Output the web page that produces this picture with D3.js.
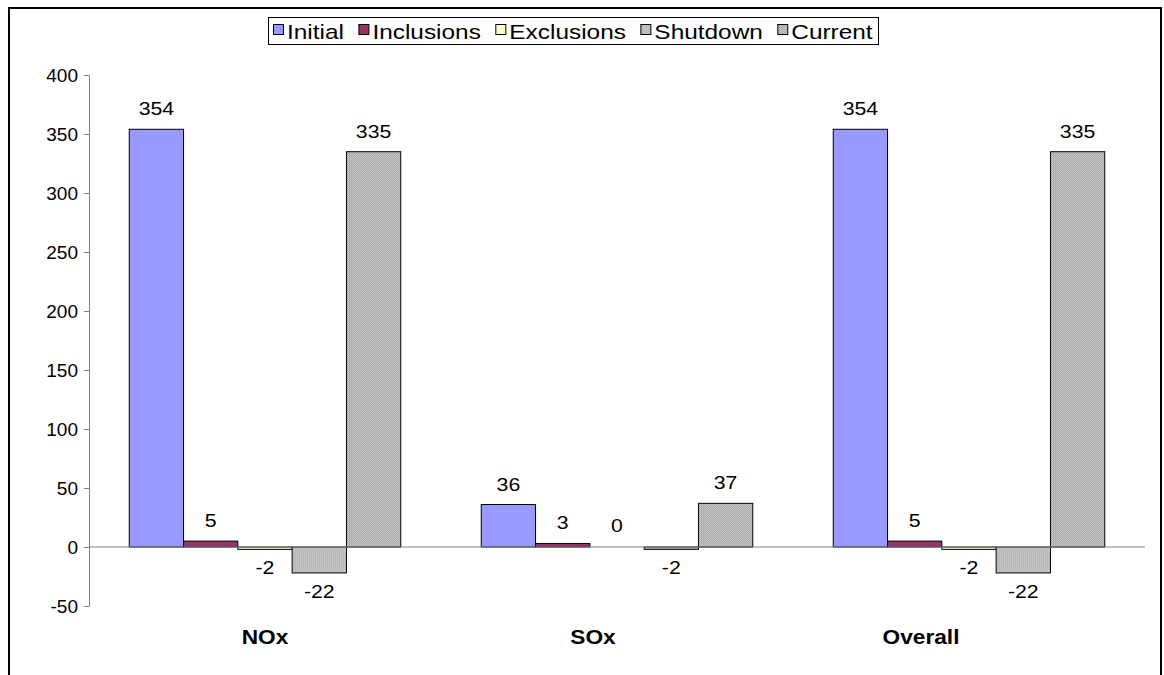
<!DOCTYPE html>
<html>
<head>
<meta charset="utf-8">
<script src="https://cdn.jsdelivr.net/npm/d3@7"></script>
<style>
  html, body { margin: 0; padding: 0; background: #fff; }
  svg { display: block; font-family: "Liberation Sans", Arial, sans-serif; }
</style>
</head>
<body>
<svg id="chart" width="1164" height="675"></svg>
<script>
// Emission totals by pollutant, broken into the change components
const categories = ["NOx", "SOx", "Overall"];
const seriesNames = ["Initial", "Inclusions", "Exclusions", "Shutdown", "Current"];
const initialVals    = [354, 36, 354];
const inclusionVals  = [5, 3, 5];
const exclusionVals  = [-2, 0, -2];
const shutdownVals   = [-22, -2, -22];
const currentVals    = [335, 37, 335];
const yTicks = [-50, 0, 50, 100, 150, 200, 250, 300, 350, 400];

const seriesValues = [initialVals, inclusionVals, exclusionVals, shutdownVals, currentVals];

const svg = d3.select("#chart");
const plot = { left: 89, right: 1145, top: 75, bottom: 606 };

// Fills: solid for the first three series, fine textures for the last two
const defs = svg.append("defs");
const stripe = defs.append("pattern").attr("id", "pat-shutdown")
  .attr("patternUnits", "userSpaceOnUse").attr("width", 2).attr("height", 2);
stripe.append("rect").attr("width", 2).attr("height", 2).attr("fill", "#c8c8c8");
stripe.append("rect").attr("width", 1).attr("height", 2).attr("fill", "#b4b4b4");

const checker = defs.append("pattern").attr("id", "pat-current")
  .attr("patternUnits", "userSpaceOnUse").attr("width", 2).attr("height", 2);
checker.append("rect").attr("width", 2).attr("height", 2).attr("fill", "#d4d4d4");
checker.append("rect").attr("width", 1).attr("height", 1).attr("fill", "#9a9a9a");
checker.append("rect").attr("x", 1).attr("y", 1).attr("width", 1).attr("height", 1).attr("fill", "#9a9a9a");

const fills = ["#9999ff", "#993366", "#ffffcc", "url(#pat-shutdown)", "url(#pat-current)"];

// Scales
const x0 = d3.scaleBand().domain(categories).range([plot.left, plot.right])
  .paddingInner(0.2287).paddingOuter(0.11435);
const x1 = d3.scaleBand().domain(seriesNames).range([0, x0.bandwidth()]);
const y = d3.scaleLinear().domain([-50, 400]).range([plot.bottom, plot.top]);
// category captions sit on a slightly tighter spacing than the bar groups
const xLabel = d3.scaleBand().domain(categories).range([101, 1085]);

// Y axis
const yAxis = d3.axisLeft(y).tickValues(yTicks).tickSize(5).tickPadding(6)
  .tickSizeOuter(0).tickFormat(d => String(d));
const gy = svg.append("g").attr("transform", `translate(${plot.left},0)`).call(yAxis);
gy.select(".domain").attr("stroke", "#808080");
gy.selectAll(".tick line").attr("stroke", "#808080");
gy.selectAll(".tick text").attr("font-size", 19).attr("fill", "#000")
  .attr("font-family", "Liberation Sans, Arial, sans-serif");

// Bars
const groups = svg.append("g").selectAll("g").data(categories).join("g")
  .attr("transform", d => `translate(${x0(d)},0)`);

const barData = ci => seriesNames.map((s, si) => ({ s, si, v: seriesValues[si][ci] }));

groups.each(function (cat, ci) {
  const g = d3.select(this);
  const data = barData(ci);
  g.selectAll("rect").data(data.filter(d => d.v !== 0)).join("rect")
    .attr("x", d => x1(d.s))
    .attr("y", d => y(Math.max(0, d.v)))
    .attr("width", x1.bandwidth())
    .attr("height", d => Math.abs(y(d.v) - y(0)))
    .attr("fill", d => fills[d.si])
    .attr("stroke", "#000").attr("stroke-width", 1);

  // value labels, slightly widened
  g.selectAll("text").data(data).join("text")
    .attr("transform", d => {
      const tx = x1(d.s) + x1.bandwidth() / 2;
      const ty = d.v > 0 ? y(d.v) - 14 : (d.v < 0 ? y(d.v) + 25 : y(0) - 15);
      return `translate(${tx},${ty}) scale(1.12,1)`;
    })
    .attr("text-anchor", "middle")
    .attr("font-size", 19)
    .text(d => d.v);
});

// Zero baseline
svg.append("line")
  .attr("x1", plot.left).attr("x2", plot.right)
  .attr("y1", y(0)).attr("y2", y(0))
  .attr("stroke", "#808080").attr("stroke-width", 1);

// Category captions
svg.append("g").selectAll("text").data(categories).join("text")
  .attr("transform", d => `translate(${xLabel(d) + xLabel.bandwidth() / 2},644) scale(1.08,1)`)
  .attr("text-anchor", "middle")
  .attr("font-size", 21).attr("font-weight", "bold")
  .text(d => d);

// Legend
const legend = svg.append("g");
const legendBox = { x: 268, y: 17, w: 610, h: 27 };
const legendStretch = 1.22;
legend.append("rect").attr("x", legendBox.x + 0.5).attr("y", legendBox.y + 0.5)
  .attr("width", legendBox.w).attr("height", legendBox.h)
  .attr("fill", "#fff").attr("stroke", "#000");
const items = legend.selectAll("g").data(seriesNames).join("g");
items.append("rect").attr("width", 10).attr("height", 10).attr("y", -14.5).attr("x", 0.5)
  .attr("fill", (d, i) => fills[i]).attr("stroke", "#000");
items.append("text").attr("transform", `translate(14,0) scale(${legendStretch},1)`)
  .attr("font-size", 20).text(d => d);
const widths = [];
items.each(function () { widths.push(this.getBBox().width); });
const total = d3.sum(widths);
const margin = 5;
const gap = (legendBox.w - 2 * margin - total) / (seriesNames.length - 1);
let cx = legendBox.x + margin;
items.attr("transform", (d, i) => {
  const t = `translate(${cx},${legendBox.y + 22})`;
  cx += widths[i] + gap;
  return t;
});

// Outer chart border
svg.append("rect").attr("x", 9).attr("y", 8).attr("width", 1152).attr("height", 700)
  .attr("fill", "none").attr("stroke", "#000").attr("stroke-width", 2);
</script>
</body>
</html>
